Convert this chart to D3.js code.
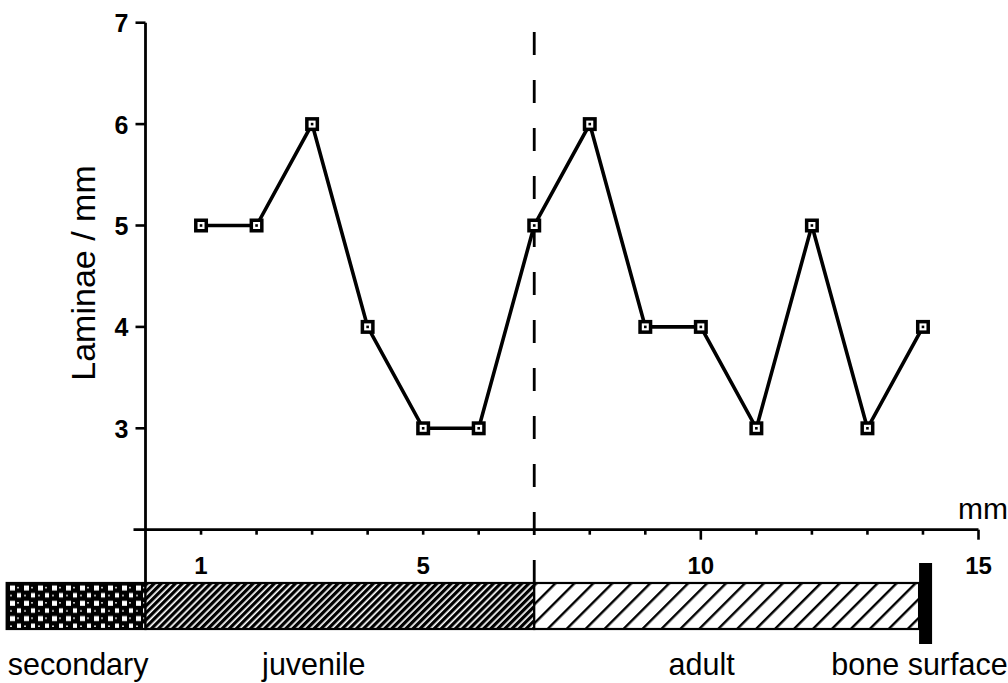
<!DOCTYPE html>
<html><head><meta charset="utf-8">
<script src="https://cdn.jsdelivr.net/npm/d3@7"></script>
<style>html,body{margin:0;padding:0;background:#fff;} svg{display:block;font-family:"Liberation Sans",Arial,sans-serif;}</style>
</head><body><div id="chart"></div>
<script>
// data
const distanceMm = [1,2,3,4,5,6,7,8,9,10,11,12,13,14];
const laminaePerMm = [5,5,6,4,3,3,5,6,4,4,3,5,3,4];
const yTicks = [3,4,5,6,7];
const xMinorTicks = [1,2,3,4,5,6,8,9,11,12,13,14];
const xMajorTicks = [10,15];
const xTickLabels = [1,5,10,15];
const zoneNames = ["secondary","juvenile","adult"];
const zoneStart = [-2.5, 0, 7];
const zoneEnd = [0, 7, 13.93];
const zoneLabelPos = [-2.48, 2.1, 9.42, 12.35];
const zoneLabels = ["secondary","juvenile","adult","bone surface"];
const boundaryMm = 7;
const boneSurfaceMm = 13.93;

const W = 1008, H = 683;
const svg = d3.select("#chart").append("svg").attr("width", W).attr("height", H);
const x = d3.scaleLinear().domain([0, 15]).range([145.5, 978.5]);
const y = d3.scaleLinear().domain([2, 7]).range([529.7, 22.7]);

const defs = svg.append("defs");
// secondary pattern
const pSec = defs.append("pattern").attr("id","sec").attr("patternUnits","userSpaceOnUse")
  .attr("width",14).attr("height",15.3).attr("x",7).attr("y",583);
pSec.append("rect").attr("width",14).attr("height",15.3).attr("fill","#000");
pSec.append("rect").attr("x",3).attr("y",2.5).attr("width",5).attr("height",5).attr("fill","#fff");
pSec.append("rect").attr("x",10).attr("y",10).attr("width",4.5).attr("height",4.5).attr("fill","#fff");
pSec.append("rect").attr("x",10).attr("y",4).attr("width",2).attr("height",1.2).attr("fill","#fff");
pSec.append("rect").attr("x",3).attr("y",12).attr("width",2).attr("height",1.2).attr("fill","#fff");
// juvenile dense hatch
const pJuv = defs.append("pattern").attr("id","juv").attr("patternUnits","userSpaceOnUse")
  .attr("width",5).attr("height",5).attr("patternTransform","rotate(45)");
pJuv.append("rect").attr("width",5).attr("height",5).attr("fill","#fff");
pJuv.append("rect").attr("width",3.3).attr("height",5).attr("fill","#000");
// adult sparse hatch
const pAd = defs.append("pattern").attr("id","adu").attr("patternUnits","userSpaceOnUse")
  .attr("width",13.4).attr("height",13.4).attr("patternTransform","rotate(45)");
pAd.append("rect").attr("width",13.4).attr("height",13.4).attr("fill","#fff");
pAd.append("rect").attr("width",2.4).attr("height",13.4).attr("fill","#000");

const fills = ["url(#sec)","url(#juv)","url(#adu)"];
const barTop = 583, barH = 46;

// zone bar
svg.append("g").selectAll("rect").data(zoneNames).join("rect")
  .attr("x",(d,i)=>x(zoneStart[i])).attr("width",(d,i)=>x(zoneEnd[i])-x(zoneStart[i]))
  .attr("y",barTop).attr("height",barH).attr("fill",(d,i)=>fills[i])
  .attr("stroke","#000").attr("stroke-width",2.2);
// bone surface mark
svg.append("rect").attr("x",x(boneSurfaceMm)).attr("width",13).attr("y",563).attr("height",81).attr("fill","#000");

// zone labels
svg.append("g").selectAll("text").data(zoneLabels).join("text")
  .attr("x",(d,i)=>x(zoneLabelPos[i])).attr("y",675).attr("font-size",30.5).attr("fill","#000").text(d=>d);

// y axis line (extends to bar)
svg.append("line").attr("x1",x(0)).attr("x2",x(0)).attr("y1",y(7)).attr("y2",barTop).attr("stroke","#000").attr("stroke-width",2.8);
// y ticks
svg.append("g").selectAll("line").data(yTicks).join("line")
  .attr("x1",x(0)-10).attr("x2",x(0)).attr("y1",d=>y(d)).attr("y2",d=>y(d)).attr("stroke","#000").attr("stroke-width",2.6);
svg.append("g").selectAll("text").data(yTicks).join("text")
  .attr("x",x(0)-17).attr("y",d=>y(d)+9.5).attr("text-anchor","end").attr("font-size",25).attr("font-weight","bold").text(d=>d);

// x axis line
svg.append("line").attr("x1",x(0)-12).attr("x2",x(15)).attr("y1",y(2)).attr("y2",y(2)).attr("stroke","#000").attr("stroke-width",2.8);
svg.append("g").selectAll("line").data(xMinorTicks).join("line")
  .attr("x1",d=>x(d)).attr("x2",d=>x(d)).attr("y1",y(2)).attr("y2",y(2)+5).attr("stroke","#000").attr("stroke-width",2.6);
svg.append("g").selectAll("line").data(xMajorTicks).join("line")
  .attr("x1",d=>x(d)).attr("x2",d=>x(d)).attr("y1",y(2)).attr("y2",y(2)+10).attr("stroke","#000").attr("stroke-width",2.6);
svg.append("g").selectAll("text").data(xTickLabels).join("text")
  .attr("x",d=>x(d)).attr("y",574).attr("text-anchor","middle").attr("font-size",24).attr("font-weight","bold").text(d=>d);
svg.append("text").attr("x",958).attr("y",519).attr("font-size",30).text("mm");

// y label
svg.append("text").attr("transform",`translate(95,${273}) rotate(-90)`).attr("text-anchor","middle")
  .attr("font-size",34).text("Laminae / mm");

// dashed boundary
svg.append("line").attr("x1",x(boundaryMm)).attr("x2",x(boundaryMm)).attr("y1",32).attr("y2",barTop)
  .attr("stroke","#000").attr("stroke-width",2.8).attr("stroke-dasharray","23,25");

// line
const pts = distanceMm.map((d,i)=>[x(d), y(laminaePerMm[i])]);
svg.append("path").attr("d",d3.line()(pts)).attr("fill","none").attr("stroke","#000").attr("stroke-width",3.6);
// markers
const m = svg.append("g").selectAll("g").data(pts).join("g").attr("transform",d=>`translate(${d[0]},${d[1]})`);
m.append("rect").attr("x",-7).attr("y",-7).attr("width",14).attr("height",14).attr("fill","#000");
m.append("rect").attr("x",-3.5).attr("y",-3.5).attr("width",7).attr("height",7).attr("fill","#fff");
m.append("rect").attr("x",-1.3).attr("y",-1.3).attr("width",2.6).attr("height",2.6).attr("fill","#000");
</script></body></html>
